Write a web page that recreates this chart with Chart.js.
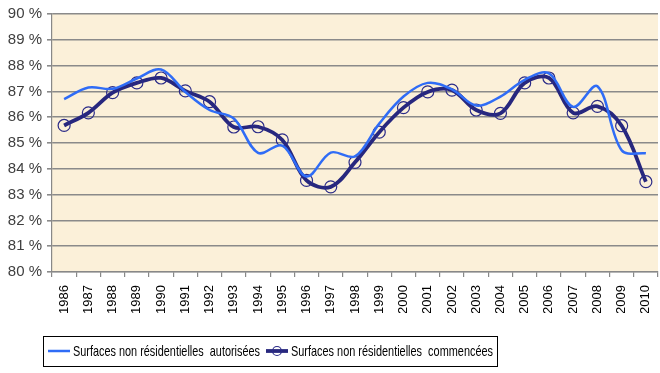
<!DOCTYPE html>
<html>
<head>
<meta charset="utf-8">
<script src="https://cdn.jsdelivr.net/npm/chart.js@4/dist/chart.umd.min.js"></script>
<style>
  html, body { margin: 0; padding: 0; background: #fff; }
  #wrap { width: 660px; height: 373px; }
</style>
</head>
<body>
<div id="wrap"><canvas id="chart" width="660" height="373"></canvas></div>
<script>
const years = ["1986","1987","1988","1989","1990","1991","1992","1993","1994","1995","1996","1997","1998",
  "1999","2000","2001","2002","2003","2004","2005","2006","2007","2008","2009","2010"];
// share of non-residential floor area, %
const autorisees = [86.7, 87.15, 87.1, 87.5, 87.85, 86.98, 86.28, 85.95, 84.62, 84.9, 83.7, 84.63, 84.48,
  85.75, 86.8, 87.33, 87.08, 86.45, 86.8, 87.45, 87.7, 86.4, 87.2, 84.72, 84.6];
const commencees = [85.68, 86.17, 86.95, 87.33, 87.52, 87.02, 86.6, 85.62, 85.63, 85.12, 83.55, 83.3, 84.25,
  85.42, 86.37, 86.98, 87.05, 86.28, 86.15, 87.33, 87.52, 86.17, 86.42, 85.67, 83.5];
const seriesNames = ["Surfaces non résidentielles  autorisées", "Surfaces non résidentielles  commencées"];

const FONT = '"Liberation Sans", Arial, sans-serif';

// parchment background behind the plot
const plotBg = {
  id: "plotBg",
  beforeDraw(chart) {
    const { ctx, chartArea: a } = chart;
    ctx.save();
    ctx.fillStyle = "#fff";
    ctx.fillRect(0, 0, chart.width, chart.height);
    ctx.fillStyle = "#FBF0D9";
    ctx.fillRect(a.left, a.top, a.right - a.left, a.bottom - a.top);
    ctx.restore();
  }
};

// boxed legend under the axis, line samples like the original
const boxLegend = {
  id: "boxLegend",
  afterDraw(chart) {
    const ctx = chart.ctx;
    const ds = chart.data.datasets;
    const y = 351;
    const widths = [187, 202];
    ctx.save();
    ctx.strokeStyle = "#000";
    ctx.lineWidth = 1;
    ctx.strokeRect(43.5, 336.5, 454, 30);
    ctx.font = "15px " + FONT;
    ctx.fillStyle = "#000";
    ctx.textBaseline = "middle";
    let x = 48;
    ds.forEach((d, i) => {
      ctx.strokeStyle = d.borderColor;
      ctx.lineWidth = d.borderWidth;
      ctx.beginPath();
      ctx.moveTo(x, y);
      ctx.lineTo(x + 22, y);
      ctx.stroke();
      if (d.pointRadius > 0) {
        ctx.lineWidth = d.pointBorderWidth;
        ctx.strokeStyle = d.pointBorderColor;
        ctx.beginPath();
        ctx.arc(x + 11, y, 4.5, 0, Math.PI * 2);
        ctx.stroke();
      }
      ctx.fillText(d.label, x + 25, y + 1, widths[i]);
      x += 25 + widths[i] + 6;
    });
    ctx.restore();
  }
};

new Chart(document.getElementById("chart"), {
  type: "line",
  data: {
    labels: years,
    datasets: [
      {
        label: seriesNames[0],
        data: autorisees,
        borderColor: "#2F6CF6",
        borderWidth: 2.5,
        pointRadius: 0,
        tension: 0.35,
        fill: false
      },
      {
        label: seriesNames[1],
        data: commencees,
        borderColor: "#27277E",
        borderWidth: 3.8,
        pointRadius: 6,
        pointBorderWidth: 1.2,
        pointBorderColor: "#2B2B88",
        pointBackgroundColor: "rgba(0,0,0,0)",
        tension: 0.35,
        fill: false
      }
    ]
  },
  options: {
    responsive: false,
    animation: false,
    layout: { autoPadding: false, padding: { top: 12, right: 2, bottom: 60, left: 0 } },
    plugins: {
      legend: { display: false },
      tooltip: { enabled: false }
    },
    scales: {
      x: {
        offset: true,
        grid: { display: true, drawOnChartArea: false, offset: true, tickLength: 5, color: "#888", lineWidth: 1.2 },
        border: { display: true, color: "#888", width: 1.2 },
        ticks: {
          autoSkip: false, minRotation: 90, maxRotation: 90, padding: 8,
          color: "#000", font: { family: FONT, size: 13 }
        },
        afterFit(scale) {
          scale.height = 41;
          scale.paddingLeft = 0;
          scale.paddingRight = 0;
        }
      },
      y: {
        min: 80, max: 90,
        grid: { color: "#8a8a8a", lineWidth: 1.6, tickLength: 5, drawTicks: true },
        border: { display: true, color: "#888", width: 1.2 },
        ticks: {
          stepSize: 1, padding: 5, color: "#404040",
          font: { family: FONT, size: 15 },
          callback: v => v + " %"
        },
        afterFit(scale) { scale.width = 52; }
      }
    }
  },
  plugins: [plotBg, boxLegend]
});
</script>
</body>
</html>
